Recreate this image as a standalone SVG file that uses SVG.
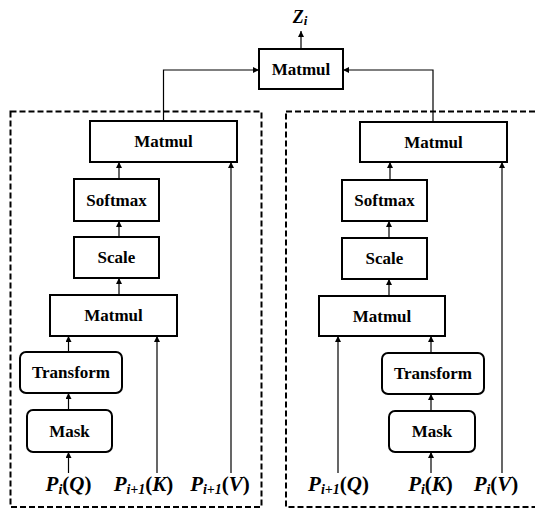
<svg xmlns="http://www.w3.org/2000/svg" width="535" height="511" viewBox="0 0 535 511" font-family="'Liberation Serif', 'Times New Roman', serif">
<style>
.box{fill:#fff;stroke:#000;stroke-width:2}
.dash{fill:none;stroke:#000;stroke-width:2;stroke-dasharray:6,3}
.con{fill:none;stroke:#000;stroke-width:1.2}
text{font-family:'Liberation Serif','Times New Roman',serif}
.lbl{font-weight:bold;font-size:17px;text-anchor:middle}
.math{font-weight:bold;font-style:italic;font-size:21px;text-anchor:middle}
.up{font-style:normal}
.sub{font-size:14px}
</style>
<defs>
<marker id="ah" viewBox="0 0 6 6" refX="6" refY="3" markerWidth="6" markerHeight="6" markerUnits="userSpaceOnUse" orient="auto">
<path d="M0,0 L6,3 L0,6 Z" fill="#000"/>
</marker>
</defs>

<rect class="dash" x="10.5" y="111.5" width="251" height="395.5"/>
<rect class="dash" x="286" y="111.5" width="252" height="395.5"/>

<g id="connectors">
<path class="con" d="M301,49 V31" marker-end="url(#ah)"/>
<path class="con" d="M163.5,121 V70 H259" marker-end="url(#ah)"/>
<path class="con" d="M433,122 V70 H343" marker-end="url(#ah)"/>
<path class="con" d="M119,179 V162" marker-end="url(#ah)"/>
<path class="con" d="M119,237 V221" marker-end="url(#ah)"/>
<path class="con" d="M119,295 V278" marker-end="url(#ah)"/>
<path class="con" d="M68.5,352 V336" marker-end="url(#ah)"/>
<path class="con" d="M68.5,410 V393" marker-end="url(#ah)"/>
<path class="con" d="M68.5,473 V452" marker-end="url(#ah)"/>
<path class="con" d="M157,473 V336" marker-end="url(#ah)"/>
<path class="con" d="M231,473 V162" marker-end="url(#ah)"/>
<path class="con" d="M390,180 V162" marker-end="url(#ah)"/>
<path class="con" d="M389,238 V221" marker-end="url(#ah)"/>
<path class="con" d="M389,296 V279" marker-end="url(#ah)"/>
<path class="con" d="M431,353 V336" marker-end="url(#ah)"/>
<path class="con" d="M431,411 V394" marker-end="url(#ah)"/>
<path class="con" d="M431,473 V452" marker-end="url(#ah)"/>
<path class="con" d="M338,473 V336" marker-end="url(#ah)"/>
<path class="con" d="M502,473 V162" marker-end="url(#ah)"/>
</g>

<text class="math" x="300" y="23" style="font-size:18px">Z<tspan style="font-size:13px" dy="2">i</tspan></text>

<g id="matmul-top"><rect class="box" x="259" y="49" width="84" height="40"/><text class="lbl" x="301" y="75">Matmul</text></g>

<g id="l-matmul-up"><rect class="box" x="90" y="121" width="147" height="41"/><text class="lbl" x="163.5" y="147">Matmul</text></g>
<g id="l-softmax"><rect class="box" x="74" y="179" width="85" height="42"/><text class="lbl" x="116.5" y="206">Softmax</text></g>
<g id="l-scale"><rect class="box" x="74" y="237" width="85" height="41"/><text class="lbl" x="116.5" y="263">Scale</text></g>
<g id="l-matmul-low"><rect class="box" x="50" y="295" width="127" height="41"/><text class="lbl" x="113.5" y="321">Matmul</text></g>
<g id="l-transform"><rect class="box" x="20" y="352" width="102" height="41" rx="6"/><text class="lbl" x="71" y="378">Transform</text></g>
<g id="l-mask"><rect class="box" x="27" y="410" width="85" height="42" rx="6"/><text class="lbl" x="69.5" y="437">Mask</text></g>

<g id="r-matmul-up"><rect class="box" x="360" y="122" width="147" height="40"/><text class="lbl" x="433.5" y="148">Matmul</text></g>
<g id="r-softmax"><rect class="box" x="342" y="180" width="85" height="41"/><text class="lbl" x="384.5" y="206">Softmax</text></g>
<g id="r-scale"><rect class="box" x="342" y="238" width="85" height="41"/><text class="lbl" x="384.5" y="264">Scale</text></g>
<g id="r-matmul-low"><rect class="box" x="319" y="296" width="126" height="40"/><text class="lbl" x="382" y="322">Matmul</text></g>
<g id="r-transform"><rect class="box" x="382" y="353" width="102" height="41" rx="6"/><text class="lbl" x="433" y="379">Transform</text></g>
<g id="r-mask"><rect class="box" x="389" y="411" width="86" height="41" rx="6"/><text class="lbl" x="432" y="437">Mask</text></g>

<text class="math" x="68.5" y="491">P<tspan class="sub" dy="3">i</tspan><tspan class="up" dy="-3">(</tspan>Q<tspan class="up">)</tspan></text>
<text class="math" x="143.5" y="491">P<tspan class="sub" dy="3">i+1</tspan><tspan class="up" dy="-3">(</tspan>K<tspan class="up">)</tspan></text>
<text class="math" x="220" y="491">P<tspan class="sub" dy="3">i+1</tspan><tspan class="up" dy="-3">(</tspan>V<tspan class="up">)</tspan></text>

<text class="math" x="338.5" y="491">P<tspan class="sub" dy="3">i+1</tspan><tspan class="up" dy="-3">(</tspan>Q<tspan class="up">)</tspan></text>
<text class="math" x="430.5" y="491">P<tspan class="sub" dy="3">i</tspan><tspan class="up" dy="-3">(</tspan>K<tspan class="up">)</tspan></text>
<text class="math" x="496" y="491">P<tspan class="sub" dy="3">i</tspan><tspan class="up" dy="-3">(</tspan>V<tspan class="up">)</tspan></text>
</svg>
